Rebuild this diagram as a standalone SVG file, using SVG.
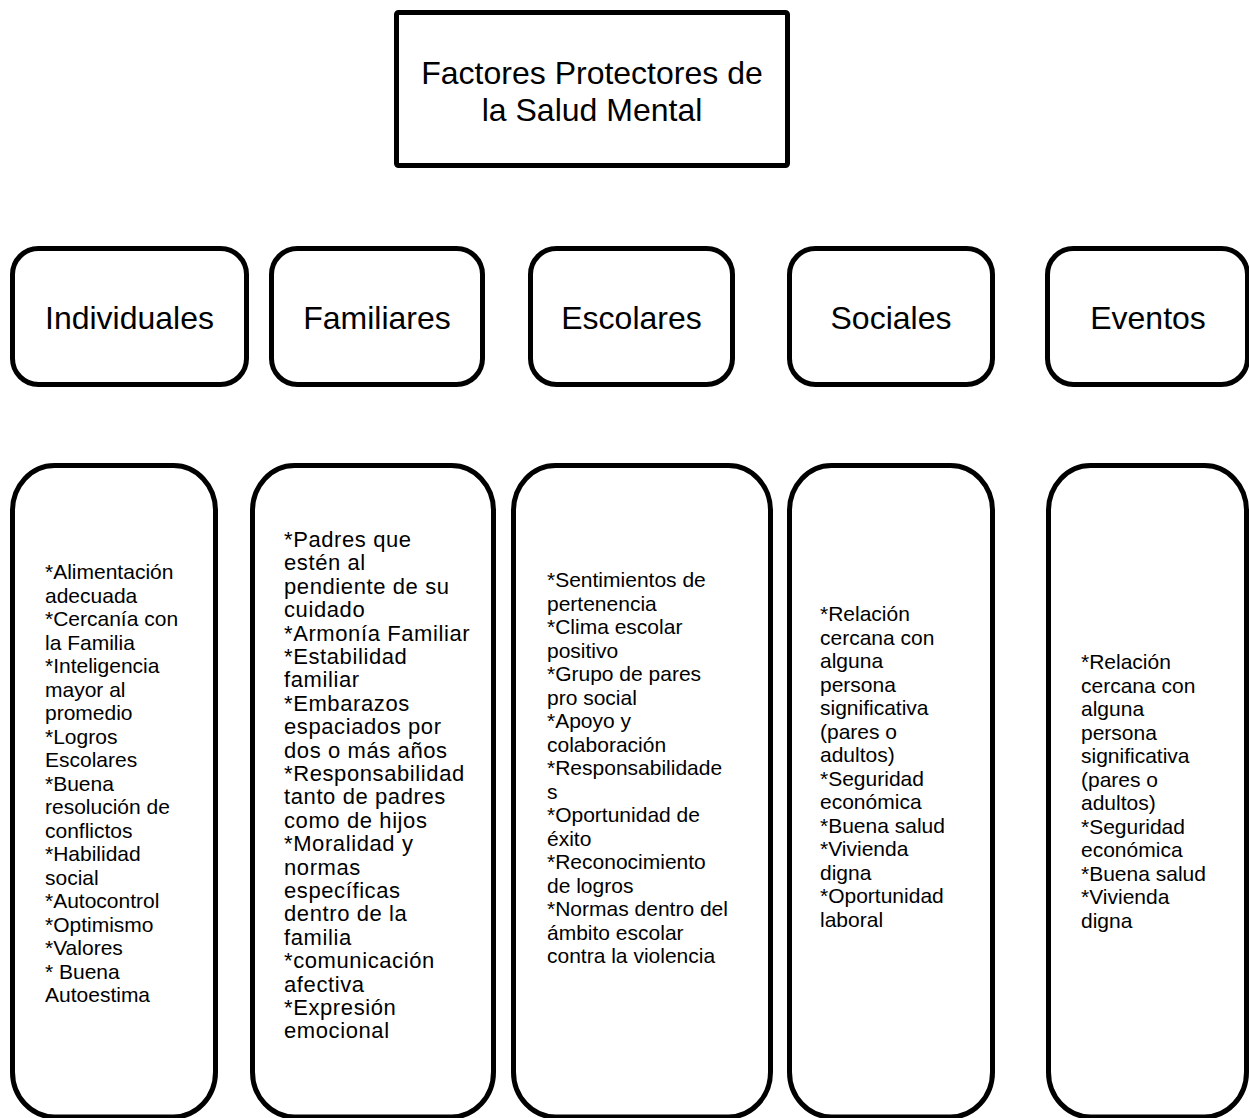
<svg xmlns="http://www.w3.org/2000/svg" width="1249" height="1118" viewBox="0 0 1249 1118">
  <style>
    .box { fill: #ffffff; stroke: #000000; stroke-width: 5; }
    .title { font-family: "Liberation Sans", Arial, sans-serif; font-size: 32px; fill: #000000; text-anchor: middle; }
    .head { font-family: "Liberation Sans", Arial, sans-serif; font-size: 32px; fill: #000000; text-anchor: middle; }
    .list { font-family: "Liberation Sans", Arial, sans-serif; font-size: 21px; fill: #000000; }
    .list-wide { font-family: "Liberation Sans", Arial, sans-serif; font-size: 22px; letter-spacing: 0.6px; fill: #000000; }
  </style>
  <rect x="0" y="0" width="1249" height="1118" fill="#ffffff"/>

  <!-- Main title -->
  <g id="title">
    <rect class="box" x="396.5" y="12.5" width="391" height="153" rx="2"/>
    <text class="title" x="592" y="84">Factores Protectores de</text>
    <text class="title" x="592" y="121">la Salud Mental</text>
  </g>

  <!-- Category headers -->
  <g id="cat-individuales">
    <rect class="box" x="12.5" y="248.5" width="234" height="136" rx="26"/>
    <text class="head" x="129.5" y="329">Individuales</text>
  </g>
  <g id="cat-familiares">
    <rect class="box" x="271.5" y="248.5" width="211" height="136" rx="26"/>
    <text class="head" x="377" y="329">Familiares</text>
  </g>
  <g id="cat-escolares">
    <rect class="box" x="530.5" y="248.5" width="202" height="136" rx="26"/>
    <text class="head" x="631.5" y="329">Escolares</text>
  </g>
  <g id="cat-sociales">
    <rect class="box" x="789.5" y="248.5" width="203" height="136" rx="26"/>
    <text class="head" x="891" y="329">Sociales</text>
  </g>
  <g id="cat-eventos">
    <rect class="box" x="1047.5" y="248.5" width="200" height="136" rx="26"/>
    <text class="head" x="1148" y="329">Eventos</text>
  </g>

  <!-- Factor lists -->
  <g id="list-individuales">
    <rect class="box" x="12.5" y="465.5" width="203" height="651.5" rx="42" ry="45"/>
    <text class="list" x="45" y="579">
      <tspan x="45">*Alimentación</tspan>
      <tspan x="45" dy="23.5">adecuada</tspan>
      <tspan x="45" dy="23.5">*Cercanía con</tspan>
      <tspan x="45" dy="23.5">la Familia</tspan>
      <tspan x="45" dy="23.5">*Inteligencia</tspan>
      <tspan x="45" dy="23.5">mayor al</tspan>
      <tspan x="45" dy="23.5">promedio</tspan>
      <tspan x="45" dy="23.5">*Logros</tspan>
      <tspan x="45" dy="23.5">Escolares</tspan>
      <tspan x="45" dy="23.5">*Buena</tspan>
      <tspan x="45" dy="23.5">resolución de</tspan>
      <tspan x="45" dy="23.5">conflictos</tspan>
      <tspan x="45" dy="23.5">*Habilidad</tspan>
      <tspan x="45" dy="23.5">social</tspan>
      <tspan x="45" dy="23.5">*Autocontrol</tspan>
      <tspan x="45" dy="23.5">*Optimismo</tspan>
      <tspan x="45" dy="23.5">*Valores</tspan>
      <tspan x="45" dy="23.5">* Buena</tspan>
      <tspan x="45" dy="23.5">Autoestima</tspan>
    </text>
  </g>
  <g id="list-familiares">
    <rect class="box" x="252.5" y="465.5" width="241" height="651.5" rx="42" ry="45"/>
    <text class="list-wide" x="284" y="547">
      <tspan x="284">*Padres que</tspan>
      <tspan x="284" dy="23.4">estén al</tspan>
      <tspan x="284" dy="23.4">pendiente de su</tspan>
      <tspan x="284" dy="23.4">cuidado</tspan>
      <tspan x="284" dy="23.4">*Armonía Familiar</tspan>
      <tspan x="284" dy="23.4">*Estabilidad</tspan>
      <tspan x="284" dy="23.4">familiar</tspan>
      <tspan x="284" dy="23.4">*Embarazos</tspan>
      <tspan x="284" dy="23.4">espaciados por</tspan>
      <tspan x="284" dy="23.4">dos o más años</tspan>
      <tspan x="284" dy="23.4">*Responsabilidad</tspan>
      <tspan x="284" dy="23.4">tanto de padres</tspan>
      <tspan x="284" dy="23.4">como de hijos</tspan>
      <tspan x="284" dy="23.4">*Moralidad y</tspan>
      <tspan x="284" dy="23.4">normas</tspan>
      <tspan x="284" dy="23.4">específicas</tspan>
      <tspan x="284" dy="23.4">dentro de la</tspan>
      <tspan x="284" dy="23.4">familia</tspan>
      <tspan x="284" dy="23.4">*comunicación</tspan>
      <tspan x="284" dy="23.4">afectiva</tspan>
      <tspan x="284" dy="23.4">*Expresión</tspan>
      <tspan x="284" dy="23.4">emocional</tspan>
    </text>
  </g>
  <g id="list-escolares">
    <rect class="box" x="513.5" y="465.5" width="257" height="651.5" rx="42" ry="45"/>
    <text class="list" x="547" y="587">
      <tspan x="547">*Sentimientos de</tspan>
      <tspan x="547" dy="23.5">pertenencia</tspan>
      <tspan x="547" dy="23.5">*Clima escolar</tspan>
      <tspan x="547" dy="23.5">positivo</tspan>
      <tspan x="547" dy="23.5">*Grupo de pares</tspan>
      <tspan x="547" dy="23.5">pro social</tspan>
      <tspan x="547" dy="23.5">*Apoyo y</tspan>
      <tspan x="547" dy="23.5">colaboración</tspan>
      <tspan x="547" dy="23.5">*Responsabilidade</tspan>
      <tspan x="547" dy="23.5">s</tspan>
      <tspan x="547" dy="23.5">*Oportunidad de</tspan>
      <tspan x="547" dy="23.5">éxito</tspan>
      <tspan x="547" dy="23.5">*Reconocimiento</tspan>
      <tspan x="547" dy="23.5">de logros</tspan>
      <tspan x="547" dy="23.5">*Normas dentro del</tspan>
      <tspan x="547" dy="23.5">ámbito escolar</tspan>
      <tspan x="547" dy="23.5">contra la violencia</tspan>
    </text>
  </g>
  <g id="list-sociales">
    <rect class="box" x="789.5" y="465.5" width="203" height="651.5" rx="42" ry="45"/>
    <text class="list" x="820" y="621">
      <tspan x="820">*Relación</tspan>
      <tspan x="820" dy="23.5">cercana con</tspan>
      <tspan x="820" dy="23.5">alguna</tspan>
      <tspan x="820" dy="23.5">persona</tspan>
      <tspan x="820" dy="23.5">significativa</tspan>
      <tspan x="820" dy="23.5">(pares o</tspan>
      <tspan x="820" dy="23.5">adultos)</tspan>
      <tspan x="820" dy="23.5">*Seguridad</tspan>
      <tspan x="820" dy="23.5">económica</tspan>
      <tspan x="820" dy="23.5">*Buena salud</tspan>
      <tspan x="820" dy="23.5">*Vivienda</tspan>
      <tspan x="820" dy="23.5">digna</tspan>
      <tspan x="820" dy="23.5">*Oportunidad</tspan>
      <tspan x="820" dy="23.5">laboral</tspan>
    </text>
  </g>
  <g id="list-eventos">
    <rect class="box" x="1048.5" y="465.5" width="198" height="651.5" rx="42" ry="45"/>
    <text class="list" x="1081" y="669">
      <tspan x="1081">*Relación</tspan>
      <tspan x="1081" dy="23.5">cercana con</tspan>
      <tspan x="1081" dy="23.5">alguna</tspan>
      <tspan x="1081" dy="23.5">persona</tspan>
      <tspan x="1081" dy="23.5">significativa</tspan>
      <tspan x="1081" dy="23.5">(pares o</tspan>
      <tspan x="1081" dy="23.5">adultos)</tspan>
      <tspan x="1081" dy="23.5">*Seguridad</tspan>
      <tspan x="1081" dy="23.5">económica</tspan>
      <tspan x="1081" dy="23.5">*Buena salud</tspan>
      <tspan x="1081" dy="23.5">*Vivienda</tspan>
      <tspan x="1081" dy="23.5">digna</tspan>
    </text>
  </g>

  <!-- No connecting lines are drawn between the boxes -->
  <g id="connectors"/>
</svg>
